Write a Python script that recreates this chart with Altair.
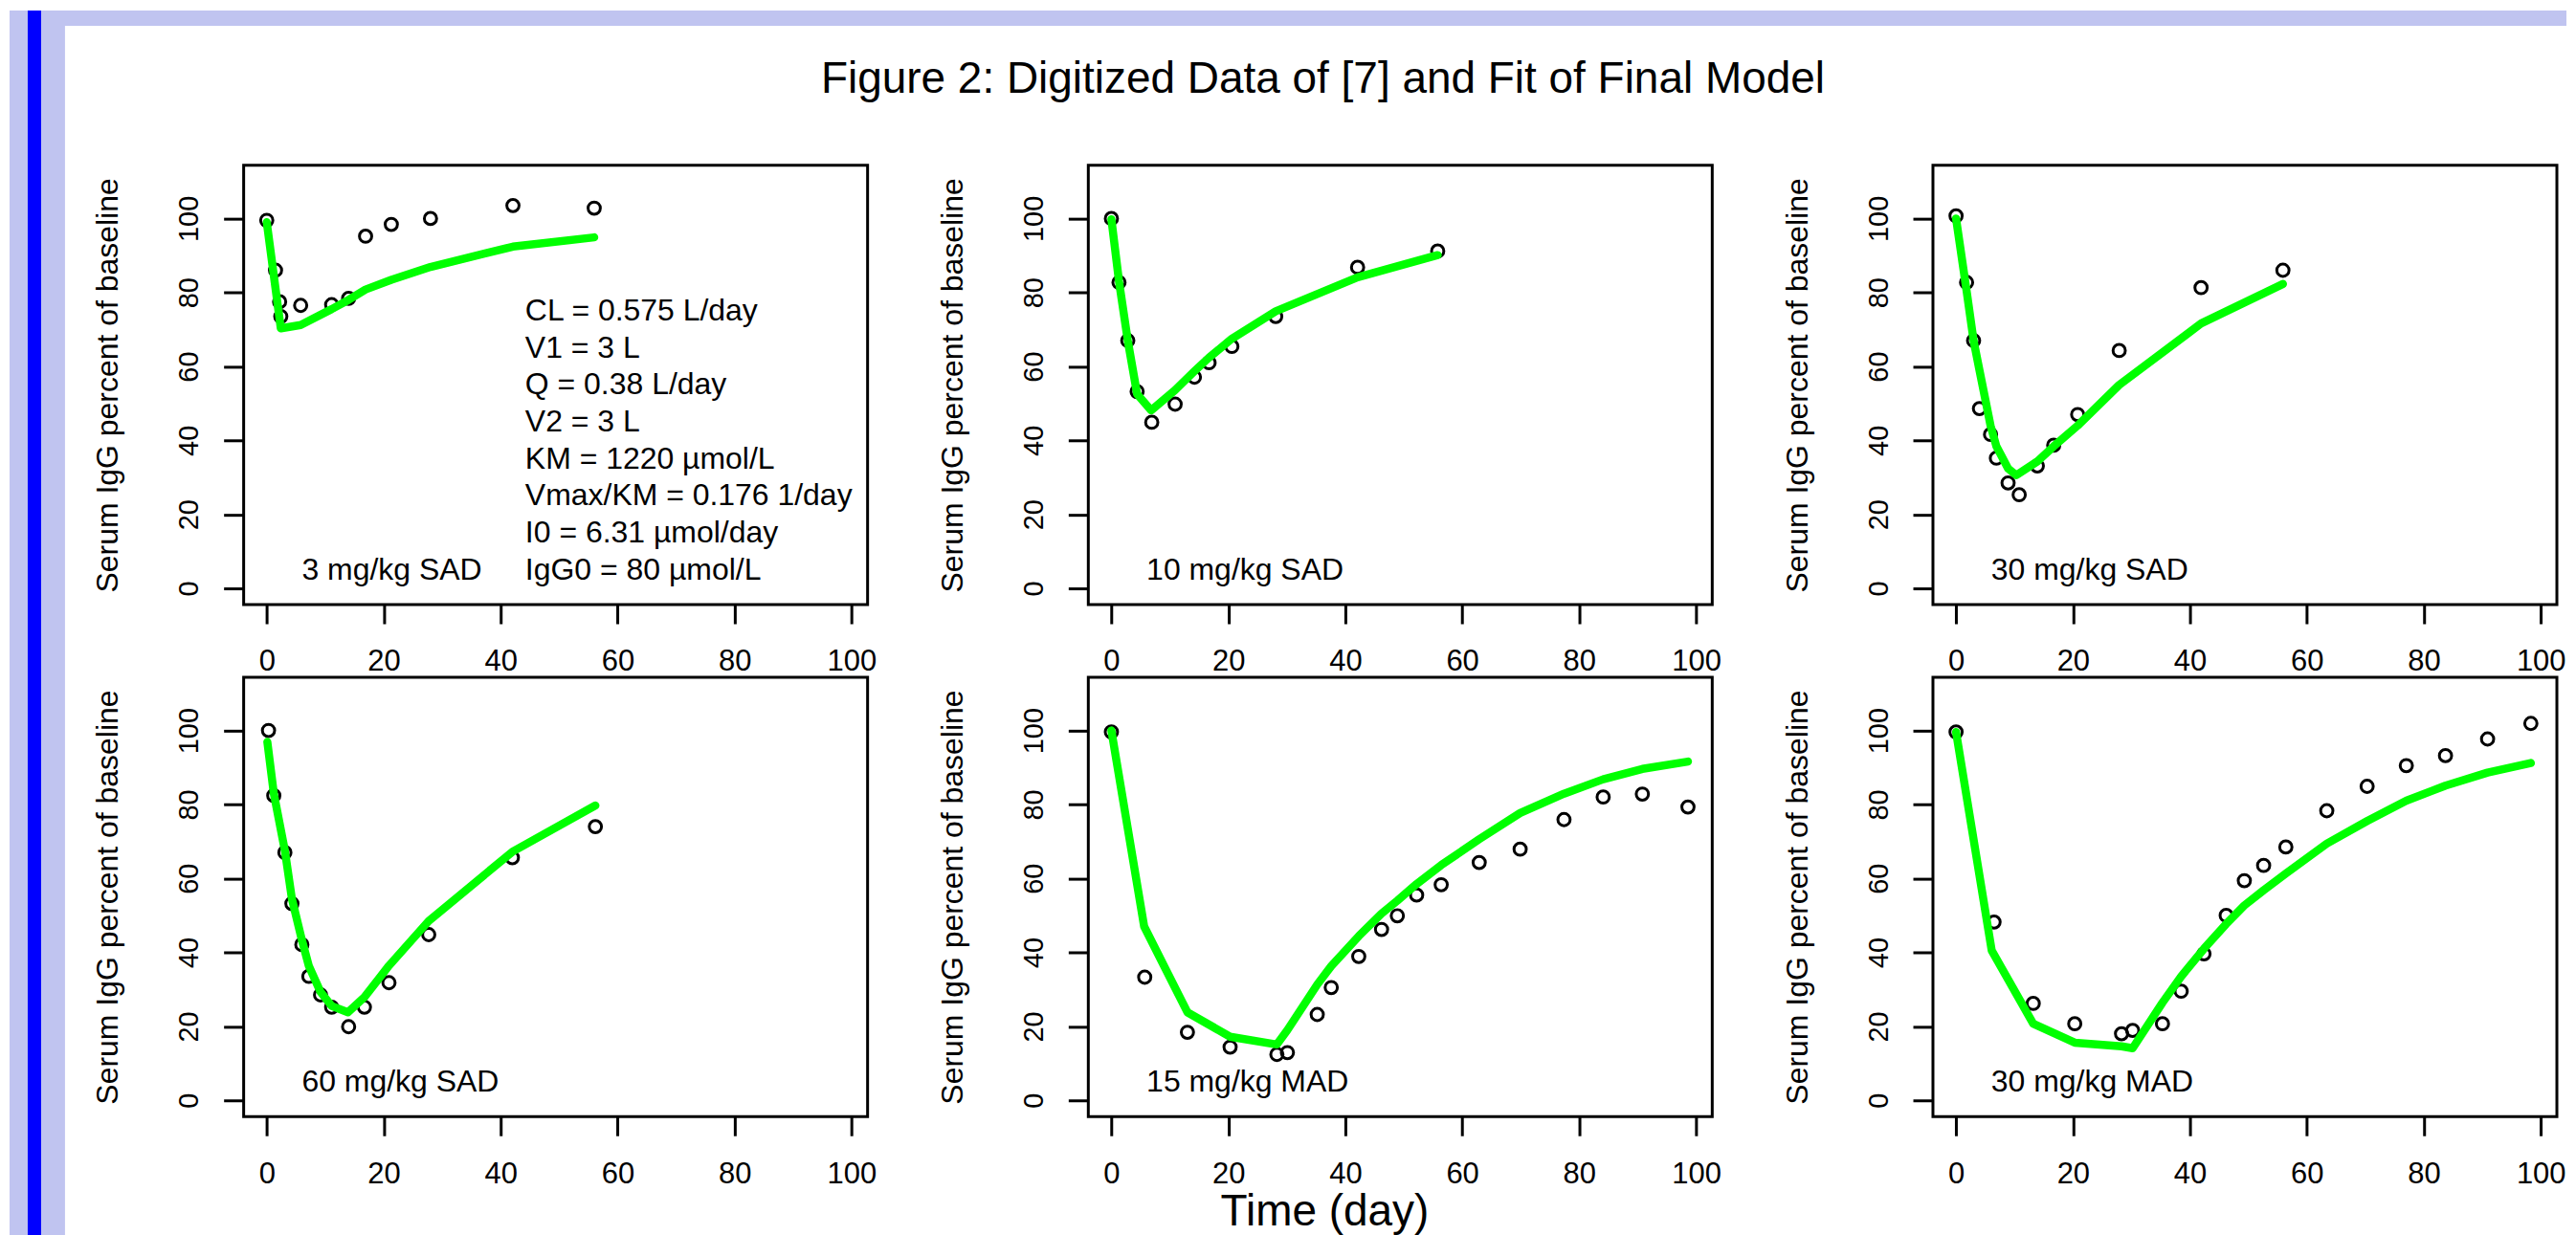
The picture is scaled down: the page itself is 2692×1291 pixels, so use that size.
import altair as alt
import pandas as pd

FONT = "Liberation Sans"
GREEN = "#00FF00"
LAVENDER = "#C0C4F0"
BLUE = "#0000FF"

TITLE = "Figure 2: Digitized Data of [7] and Fit of Final Model"
X_TITLE = "Time (day)"
Y_TITLE = "Serum IgG percent of baseline"

X_DOMAIN = [-3.95, 102.75]
Y_DOMAIN = [-4.4, 114.4]
TICKS = [0, 20, 40, 60, 80, 100]

# ---- panel 1 : 3 mg/kg SAD
p1_label = "3 mg/kg SAD"
p1_obs_t = [0, 1.5, 2.2, 2.4, 5.8, 11.1, 14, 16.9, 21.3, 28, 42.1, 56]
p1_obs_y = [99.5, 86, 77.5, 73.5, 76.5, 76.7, 78.4, 95.2, 98.4, 100, 103.5, 102.8]
p1_fit_t = [0, 2.4, 5.8, 11.1, 14, 16.9, 21.3, 28, 42.1, 56]
p1_fit_y = [99, 70.3, 71.2, 75.5, 78, 80.8, 83.4, 86.9, 92.4, 94.9]

# ---- panel 2 : 10 mg/kg SAD
p2_label = "10 mg/kg SAD"
p2_obs_t = [0, 1.3, 2.8, 4.4, 6.9, 10.9, 14.2, 16.7, 20.6, 28.1, 42.1, 55.8]
p2_obs_y = [100, 82.7, 67, 53.2, 44.9, 49.8, 57.1, 61, 65.4, 73.5, 86.8, 91.2]
p2_fit_t = [0, 1.3, 2.8, 4.4, 6.8, 10.9, 14.2, 16.7, 20.6, 28.1, 42.1, 55.8]
p2_fit_y = [99.8, 83, 67, 52.5, 48.1, 53.6, 58.7, 62.4, 67.5, 74.9, 84.1, 90.1]

# ---- panel 3 : 30 mg/kg SAD
p3_label = "30 mg/kg SAD"
p3_obs_t = [0, 1.8, 3.0, 4.0, 5.9, 6.9, 8.9, 10.8, 13.9, 16.7, 20.8, 27.9, 41.9, 55.9]
p3_obs_y = [100.7, 82.7, 67, 48.6, 41.6, 35.2, 28.5, 25.3, 33.1, 38.7, 47, 64.3, 81.3, 86]
p3_fit_t = [0, 1.8, 3.0, 4.0, 5.9, 6.9, 8.9, 10.3, 13.9, 16.7, 20.8, 27.9, 41.9, 55.9]
p3_fit_y = [100, 80.5, 67, 59, 44, 38.4, 32.4, 30.6, 34.3, 38.4, 44, 55, 71.6, 82.3]

# ---- panel 4 : 60 mg/kg SAD
p4_label = "60 mg/kg SAD"
p4_obs_t = [0.3, 1.2, 3.1, 4.3, 6.0, 7.2, 9.2, 11.1, 14, 16.7, 20.9, 27.7, 42, 56.2]
p4_obs_y = [100, 82.4, 67, 53.2, 42.1, 33.5, 28.5, 25.2, 19.9, 25.2, 31.8, 44.8, 65.6, 74]
p4_fit_t = [0.1, 1.2, 3.1, 4.3, 6.0, 7.2, 9.2, 11.1, 13.9, 16.7, 20.9, 27.7, 42, 56.2]
p4_fit_y = [96.9, 83, 67.5, 54.5, 43.4, 36.3, 29.3, 25.5, 23.8, 27.9, 36.4, 48.5, 67.2, 79.7]

# ---- panel 5 : 15 mg/kg MAD
p5_label = "15 mg/kg MAD"
p5_obs_t = [0, 5.7, 13, 20.3, 28.3, 30.1, 35.2, 37.6, 42.3, 46.2, 48.9, 52.2, 56.4,
            62.9, 69.9, 77.4, 84.1, 90.8, 98.6]
p5_obs_y = [99.6, 33.3, 18.4, 14.4, 12.4, 12.9, 23.2, 30.5, 38.9, 46.2, 49.9, 55.5, 58.3,
            64.3, 67.9, 75.9, 82, 82.8, 79.3]
p5_fit_t = [0, 5.6, 13, 20.3, 28.3, 30.1, 35.2, 37.6, 42.3, 46.2, 48.9, 52.2, 56.4,
            62.9, 69.9, 77.4, 84.1, 90.8, 98.6]
p5_fit_y = [100, 47, 23.8, 17.2, 15.1, 19, 31.3, 36.3, 44.4, 50.5, 54, 58.5, 63.6,
            70.6, 77.7, 82.9, 86.8, 89.6, 91.6]

# ---- panel 6 : 30 mg/kg MAD
p6_label = "30 mg/kg MAD"
p6_obs_t = [0, 6.5, 13.2, 20.3, 28.3, 30.2, 35.3, 38.5, 42.4, 46.2, 49.3, 52.6, 56.4,
            63.4, 70.3, 77, 83.7, 90.9, 98.3]
p6_obs_y = [99.6, 48.2, 26.2, 20.7, 18, 18.9, 20.7, 29.5, 39.6, 50, 59.4, 63.5, 68.5,
            78.3, 84.9, 90.5, 93.2, 97.7, 101.9]
p6_fit_t = [0, 6.1, 13.2, 20.3, 28.3, 30.2, 35.3, 38.5, 42.4, 46.2, 49.3, 52.6, 56.4,
            63.4, 70.3, 77, 83.7, 90.9, 98.3]
p6_fit_y = [99.6, 40.5, 20.7, 15.6, 14.6, 14.1, 26.4, 33.5, 41, 47.7, 52.7, 56.8, 61.3,
            69.4, 75.5, 81, 85.1, 88.6, 91.2]

# ---- model parameters printed in panel 1
param_lines = ["CL = 0.575 L/day", "V1 = 3 L", "Q = 0.38 L/day", "V2 = 3 L",
               "KM = 1220 \u00b5mol/L", "Vmax/KM = 0.176 1/day",
               "I0 = 6.31 \u00b5mol/day", "IgG0 = 80 \u00b5mol/L"]
param_y = [75, 65, 55, 45, 35, 25, 15, 5]
param_x = 44.2
label_x = 6
label_y = 5

W, H = 653, 460


def make_panel(label, obs_t, obs_y, fit_t, fit_y, xtitle=False, deco=False, params=False):
    if xtitle:
        xaxis = alt.Axis(values=TICKS, title=X_TITLE, titleFontSize=46, titleFontWeight="normal",
                         titleX=247, titleY=113, titleBaseline="alphabetic", titleAlign="center",
                         tickSize=20, tickWidth=3, labelPadding=25, labelFontSize=31,
                         labelBaseline="top", labelFlush=False, labelOverlap=False)
    else:
        xaxis = alt.Axis(values=TICKS, title=None,
                         tickSize=20, tickWidth=3, labelPadding=25, labelFontSize=31,
                         labelBaseline="top", labelFlush=False, labelOverlap=False)
    yaxis = alt.Axis(values=TICKS, title=Y_TITLE, titleFontSize=32, titleFontWeight="normal",
                     titlePadding=29, tickSize=21, tickWidth=3, labelPadding=27,
                     labelFontSize=29, labelAngle=-90, labelAlign="center",
                     labelBaseline="alphabetic", minExtent=96, maxExtent=96,
                     labelOverlap=False)
    xs = alt.Scale(domain=X_DOMAIN, nice=False, zero=False)
    ys = alt.Scale(domain=Y_DOMAIN, nice=False, zero=False)
    X = alt.X("t:Q", scale=xs, axis=xaxis)
    Y = alt.Y("v:Q", scale=ys, axis=yaxis)

    obs = pd.DataFrame({"t": obs_t, "v": obs_y})
    fit = pd.DataFrame({"t": fit_t, "v": fit_y})
    lab = pd.DataFrame({"t": [label_x], "v": [label_y], "txt": [label]})

    layers = []
    if deco:
        one = pd.DataFrame({"k": [0]})
        layers.append(alt.Chart(one).mark_rect(color=LAVENDER).encode(
            x=alt.value(-245), x2=alt.value(2431), y=alt.value(-162), y2=alt.value(-146)))
        layers.append(alt.Chart(one).mark_rect(color=LAVENDER).encode(
            x=alt.value(-245), x2=alt.value(-187), y=alt.value(-162), y2=alt.value(1121)))
        layers.append(alt.Chart(one).mark_rect(color=BLUE).encode(
            x=alt.value(-226), x2=alt.value(-212), y=alt.value(-162), y2=alt.value(1121)))

    layers.append(alt.Chart(obs).mark_point(shape="circle", filled=False, size=165,
                                            strokeWidth=3, color="black", opacity=1)
                  .encode(x=X, y=Y))
    layers.append(alt.Chart(fit).mark_line(color=GREEN, strokeWidth=8.5,
                                           strokeCap="round", strokeJoin="round")
                  .encode(x=X, y=Y))
    layers.append(alt.Chart(lab).mark_text(align="left", baseline="middle", fontSize=32,
                                           font=FONT, color="black")
                  .encode(x=X, y=Y, text="txt:N"))
    if params:
        par = pd.DataFrame({"t": [param_x] * len(param_lines), "v": param_y, "txt": param_lines})
        layers.append(alt.Chart(par).mark_text(align="left", baseline="middle", fontSize=32,
                                               font=FONT, color="black")
                      .encode(x=X, y=Y, text="txt:N"))
    return alt.layer(*layers).properties(width=W, height=H)


panels = [
    make_panel(p1_label, p1_obs_t, p1_obs_y, p1_fit_t, p1_fit_y, deco=True, params=True),
    make_panel(p2_label, p2_obs_t, p2_obs_y, p2_fit_t, p2_fit_y),
    make_panel(p3_label, p3_obs_t, p3_obs_y, p3_fit_t, p3_fit_y),
    make_panel(p4_label, p4_obs_t, p4_obs_y, p4_fit_t, p4_fit_y),
    make_panel(p5_label, p5_obs_t, p5_obs_y, p5_fit_t, p5_fit_y, xtitle=True),
    make_panel(p6_label, p6_obs_t, p6_obs_y, p6_fit_t, p6_fit_y),
]

chart = alt.concat(
    *panels, columns=3, spacing={"row": 76, "column": 231}, bounds="flush",
    title=alt.TitleParams(text=TITLE, font=FONT, fontSize=46, fontWeight="normal",
                          color="black", anchor="start", frame="bounds", align="center",
                          dx=1376, offset=-134, baseline="alphabetic"),
).properties(
    padding=0, background="white"
).configure_view(
    stroke="black", strokeWidth=3, fill="white"
).configure_axis(
    labelFont=FONT, titleFont=FONT, labelColor="black", titleColor="black",
    tickColor="black", domain=False, grid=False
)

chart.save("out.html", embed_options={"renderer": "svg", "actions": False})
